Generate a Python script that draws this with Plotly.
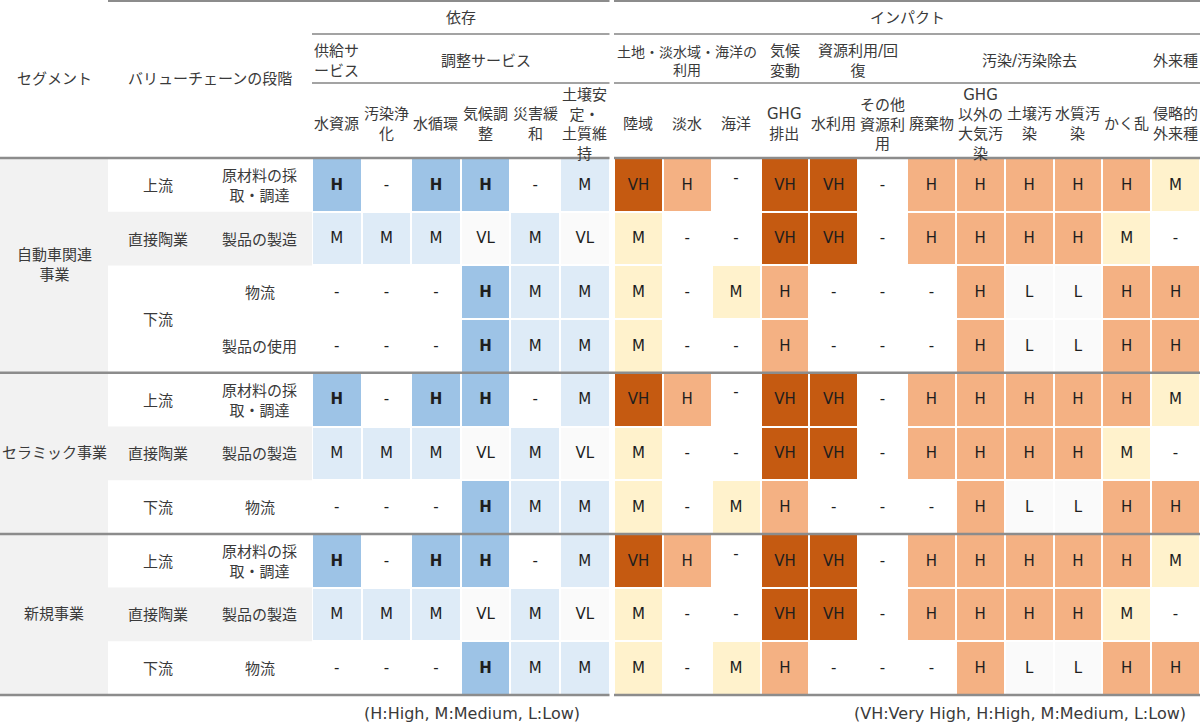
import plotly.graph_objects as go

# ---------------- data ----------------
segments = ["自動車関連<br>事業", "セラミック事業", "新規事業"]
segment_row_counts = [4, 3, 3]

stages = ["上流", "直接陶業", "下流", "上流", "直接陶業", "下流", "上流", "直接陶業", "下流"]
stage_row_counts = [1, 1, 2, 1, 1, 1, 1, 1, 1]

activities = ["原材料の採<br>取・調達", "製品の製造", "物流", "製品の使用",
              "原材料の採<br>取・調達", "製品の製造", "物流",
              "原材料の採<br>取・調達", "製品の製造", "物流"]

dep_title = "依存"
dep_groups = ["供給サ<br>ービス", "調整サービス"]
dep_group_spans = [1, 5]
dep_items = ["水資源", "汚染浄<br>化", "水循環", "気候調<br>整", "災害緩<br>和", "土壌安<br>定・<br>土質維<br>持"]

imp_title = "インパクト"
imp_groups = ["土地・淡水域・海洋の<br>利用", "気候<br>変動", "資源利用/回<br>復", "汚染/汚染除去", "外来種"]
imp_group_spans = [3, 1, 2, 5, 1]
imp_items = ["陸域", "淡水", "海洋", "GHG<br>排出", "水利用", "その他<br>資源利<br>用", "廃棄物",
             "GHG<br>以外の<br>大気汚<br>染", "土壌汚<br>染", "水質汚<br>染", "かく乱", "侵略的<br>外来種"]

dependency = [
    ["H", "-", "H", "H", "-", "M"],
    ["M", "M", "M", "VL", "M", "VL"],
    ["-", "-", "-", "H", "M", "M"],
    ["-", "-", "-", "H", "M", "M"],
    ["H", "-", "H", "H", "-", "M"],
    ["M", "M", "M", "VL", "M", "VL"],
    ["-", "-", "-", "H", "M", "M"],
    ["H", "-", "H", "H", "-", "M"],
    ["M", "M", "M", "VL", "M", "VL"],
    ["-", "-", "-", "H", "M", "M"],
]

impact = [
    ["VH", "H", "-", "VH", "VH", "-", "H", "H", "H", "H", "H", "M"],
    ["M", "-", "-", "VH", "VH", "-", "H", "H", "H", "H", "M", "-"],
    ["M", "-", "M", "H", "-", "-", "-", "H", "L", "L", "H", "H"],
    ["M", "-", "-", "H", "-", "-", "-", "H", "L", "L", "H", "H"],
    ["VH", "H", "-", "VH", "VH", "-", "H", "H", "H", "H", "H", "M"],
    ["M", "-", "-", "VH", "VH", "-", "H", "H", "H", "H", "M", "-"],
    ["M", "-", "M", "H", "-", "-", "-", "H", "L", "L", "H", "H"],
    ["VH", "H", "-", "VH", "VH", "-", "H", "H", "H", "H", "H", "M"],
    ["M", "-", "-", "VH", "VH", "-", "H", "H", "H", "H", "M", "-"],
    ["M", "-", "M", "H", "-", "-", "-", "H", "L", "L", "H", "H"],
]

dep_legend = "(H:High, M:Medium, L:Low)"
imp_legend = "(VH:Very High, H:High, M:Medium, L:Low)"

level_of = {"-": 0, "VL": 1, "L": 1, "M": 2, "H": 3, "VH": 4}

# ---------------- layout / style constants ----------------
W, H = 1200, 724
FONT = "DejaVu Sans, Noto Sans CJK JP"
HEAD_COLOR = "#3a3a3a"
TEXT_COLOR = "#1e1e1e"
LINE_DARK = "#8c8c8c"
LINE_LIGHT = "#a3a3a3"
LABEL_BG = "#f2f2f2"

SEG_X = (0, 108)
STAGE_X = (108, 207)
ACT_X = (207, 312)
DEP_X = (312, 609.5)
IMP_X = (614, 1200)
Y_TOP, Y_H1, Y_H2, Y_BODY, Y_END = 1, 34, 83, 158, 695
Y_GROUP_TXT, Y_ITEM_TXT, Y_FOOT = 61, 124, 713
N_ROWS = len(activities)
ROW_H = (Y_END - Y_BODY) / N_ROWS
DEP_W = (DEP_X[1] - DEP_X[0]) / len(dep_items)
IMP_W = (IMP_X[1] - IMP_X[0]) / len(imp_items)
RAISED = {(0, 2), (4, 2), (7, 2)}   # impact cells whose dash sits high
RAISE_PX = 7

dep_scale = [[0, "#ffffff"], [0.25, "#fafafa"], [0.5, "#deebf7"], [0.75, "#9dc3e6"], [1, "#5b9bd5"]]
imp_scale = [[0, "#ffffff"], [0.25, "#fafafa"], [0.5, "#fff2cc"], [0.75, "#f4b183"], [1, "#c55a11"]]

row_c = [Y_BODY + (r + 0.5) * ROW_H for r in range(N_ROWS)]
dep_c = [DEP_X[0] + (i + 0.5) * DEP_W for i in range(len(dep_items))]
imp_c = [IMP_X[0] + (i + 0.5) * IMP_W for i in range(len(imp_items))]

fig = go.Figure()

# heatmap cells
fig.add_trace(go.Heatmap(
    x=dep_c, y=row_c, z=[[level_of[v] for v in row] for row in dependency],
    colorscale=dep_scale, zmin=0, zmax=4, xgap=2, ygap=2, showscale=False, hoverinfo="skip"))
fig.add_trace(go.Heatmap(
    x=imp_c, y=row_c, z=[[level_of[v] for v in row] for row in impact],
    colorscale=imp_scale, zmin=0, zmax=4, xgap=2, ygap=2, showscale=False, hoverinfo="skip"))

# cell texts
dx, dy, dt = [], [], []
for r, row in enumerate(dependency):
    for c, v in enumerate(row):
        dx.append(dep_c[c]); dy.append(row_c[r] + 1)
        dt.append("<b>H</b>" if v == "H" else v)
fig.add_trace(go.Scatter(x=dx, y=dy, text=dt, mode="text", hoverinfo="skip",
                         textfont=dict(family=FONT, size=15, color=TEXT_COLOR)))
ix, iy, it = [], [], []
for r, row in enumerate(impact):
    for c, v in enumerate(row):
        ix.append(imp_c[c])
        iy.append(row_c[r] + 1 - (RAISE_PX if (r, c) in RAISED else 0))
        it.append(v)
fig.add_trace(go.Scatter(x=ix, y=iy, text=it, mode="text", hoverinfo="skip",
                         textfont=dict(family=FONT, size=15, color=TEXT_COLOR)))

shapes = []
annotations = []


def ann(x, y, text, size=15, color=HEAD_COLOR):
    annotations.append(dict(x=x, y=y, xref="x", yref="y", text=text, showarrow=False,
                            xanchor="center", yanchor="middle",
                            font=dict(family=FONT, size=size, color=color)))


# label backgrounds
shapes.append(dict(type="rect", xref="x", yref="y", x0=SEG_X[0], x1=SEG_X[1], y0=Y_BODY, y1=Y_END,
                   fillcolor=LABEL_BG, line=dict(width=0), layer="below"))
r = 0
for s, span in zip(stages, stage_row_counts):
    if s == "直接陶業":
        shapes.append(dict(type="rect", xref="x", yref="y", x0=STAGE_X[0], x1=ACT_X[1],
                           y0=Y_BODY + r * ROW_H, y1=Y_BODY + (r + span) * ROW_H,
                           fillcolor=LABEL_BG, line=dict(width=0), layer="below"))
    ann((STAGE_X[0] + STAGE_X[1]) / 2, Y_BODY + (r + span / 2) * ROW_H + 1, s)
    r += span

for r, a in enumerate(activities):
    ann((ACT_X[0] + ACT_X[1]) / 2, row_c[r] + 1, a)

r = 0
for s, span in zip(segments, segment_row_counts):
    ann((SEG_X[0] + SEG_X[1]) / 2, Y_BODY + (r + span / 2) * ROW_H, s)
    r += span

# headers
ann((SEG_X[0] + SEG_X[1]) / 2, 79, "セグメント")
ann((STAGE_X[0] + ACT_X[1]) / 2, 79, "バリューチェーンの段階")
ann((DEP_X[0] + DEP_X[1]) / 2, 18, dep_title)
ann((IMP_X[0] + IMP_X[1]) / 2, 18, imp_title)

c = 0
for g, span in zip(dep_groups, dep_group_spans):
    ann(DEP_X[0] + (c + span / 2) * DEP_W, Y_GROUP_TXT, g)
    c += span
c = 0
for g, span in zip(imp_groups, imp_group_spans):
    ann(IMP_X[0] + (c + span / 2) * IMP_W, Y_GROUP_TXT, g, size=14 if span == 3 else 15)
    c += span
for i, t in enumerate(dep_items):
    ann(dep_c[i], Y_ITEM_TXT, t)
for i, t in enumerate(imp_items):
    ann(imp_c[i], Y_ITEM_TXT, t)

ann(472, Y_FOOT, dep_legend, size=16)
ann(1020, Y_FOOT, imp_legend, size=16)


def hline(x0, x1, y, color, width):
    shapes.append(dict(type="line", xref="x", yref="y", x0=x0, x1=x1, y0=y, y1=y,
                       line=dict(color=color, width=width)))


hline(STAGE_X[0], DEP_X[1], Y_TOP, LINE_DARK, 2)
hline(IMP_X[0], IMP_X[1], Y_TOP, LINE_DARK, 2)
for y in (Y_H1, Y_H2):
    hline(DEP_X[0], DEP_X[1], y, LINE_LIGHT, 2)
    hline(IMP_X[0], IMP_X[1], y, LINE_LIGHT, 2)
for y in (Y_BODY, Y_END):
    hline(SEG_X[0], DEP_X[1], y, LINE_DARK, 2.5)
    hline(IMP_X[0], IMP_X[1], y, LINE_DARK, 2.5)
r = 0
for span in segment_row_counts[:-1]:
    r += span
    hline(SEG_X[0], IMP_X[1], Y_BODY + r * ROW_H, LINE_DARK, 2.5)

fig.update_layout(
    width=W, height=H, margin=dict(l=0, r=0, t=0, b=0),
    paper_bgcolor="white", plot_bgcolor="white", showlegend=False,
    xaxis=dict(range=[0, W], visible=False, fixedrange=True),
    yaxis=dict(range=[H, 0], visible=False, fixedrange=True),
    shapes=shapes, annotations=annotations,
)

fig.write_html("out.html", config={"displayModeBar": False},
               post_script="document.body.style.margin='0';document.body.style.overflow='hidden';")
